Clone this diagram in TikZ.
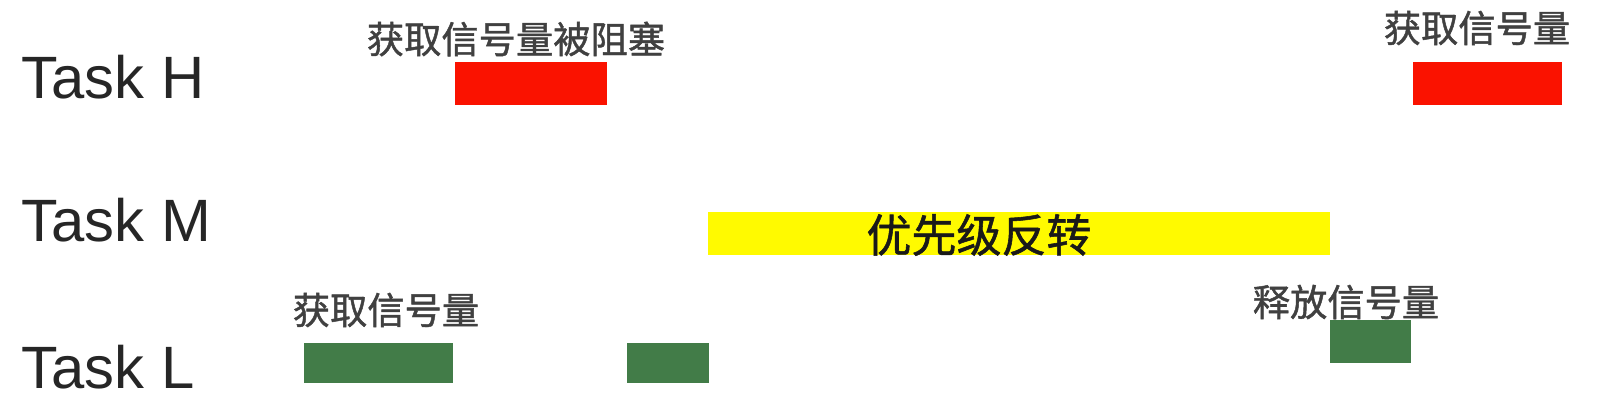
\documentclass[tikz,border=0pt]{standalone}
\usepackage{fontspec}
\setmainfont{Liberation Sans}
\newfontfamily\cjk[FakeBold=1.2]{Noto Sans CJK SC}
\usetikzlibrary{positioning}
\definecolor{cHaut}{RGB}{250,18,0}
\definecolor{cMoyen}{RGB}{255,250,0}
\definecolor{cBas}{RGB}{66,124,72}
\tikzset{
  tache/.style={anchor=west, inner sep=0pt, font=\fontsize{17}{19}\selectfont, text=black!85},
  barre/.style={rectangle, inner sep=0pt, minimum height=#1},
  barre/.default=0.43cm,
  haute/.style={barre, fill=cHaut},
  moyenne/.style={barre, fill=cMoyen},
  basse/.style={barre=0.40cm, fill=cBas},
  etiquette/.style={inner sep=0pt, font=\cjk\fontsize{10.6}{12}\selectfont, text=black!75},
}

\begin{document}
\begin{tikzpicture}[x=0.01cm, y=-0.01cm]
        \useasboundingbox (0,0) rectangle (1620,414);
        % noms des tâches
        \foreach \nom/\py/\id in {H/77/tH, M/220/tM, L/367/tL} {
          \node[tache] (\id) at (21,\py) {Task \nom};
        }
        % tâche haute
        \node[haute, minimum width=1.52cm] (hA) at (531,83.5) {};
        \node[haute, minimum width=1.49cm] (hB) at (1487.5,83.5) {};
        \node[etiquette] (ehA) at (516,39) {获取信号量被阻塞};
        \node[etiquette] (ehB) at (1477,28) {获取信号量};
        % tâche moyenne
        \node[moyenne, minimum width=6.22cm] (mA) at (1019,233.5) {};
        \node[font=\cjk\fontsize{12.8}{14}\selectfont, text=black!90, inner sep=0pt] (emA) at (979,235) {优先级反转};
        % tâche basse
        \node[basse, minimum width=1.49cm] (lA) at (378.5,363) {};
        \node[basse, minimum width=0.82cm] (lB) at (668,363) {};
        \node[basse, minimum width=0.81cm, minimum height=0.43cm] (lC) at (1370.5,341.5) {};
        \node[etiquette] (elA) at (386,310) {获取信号量};
        \node[etiquette] (elC) at (1346,302) {释放信号量};
      \end{tikzpicture}
\end{document}
